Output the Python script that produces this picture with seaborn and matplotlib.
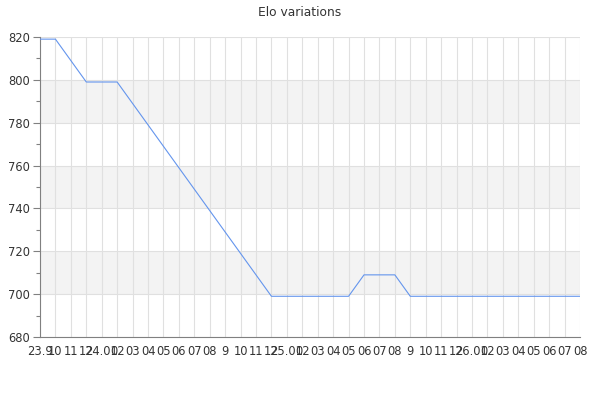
import matplotlib
matplotlib.use("Agg")
import matplotlib.pyplot as plt
import seaborn as sns
import pandas as pd
from matplotlib.ticker import MultipleLocator

tick_labels = ["23.9", "10", "11", "12",
               "24.01", "02", "03", "04", "05", "06", "07", "08", "9", "10", "11", "12",
               "25.01", "02", "03", "04", "05", "06", "07", "08", "9", "10", "11", "12",
               "26.01", "02", "03", "04", "05", "06", "07", "08"]
elo = [819, 819, 809, 799, 799, 799, 789, 779, 769, 759, 749, 739, 729, 719, 709, 699,
       699, 699, 699, 699, 699, 709, 709, 709, 699, 699, 699, 699, 699, 699, 699, 699,
       699, 699, 699, 699]
title = "Elo variations"

df = pd.DataFrame({"idx": list(range(len(elo))), "elo": elo})

sns.set_theme(style="white")
plt.rcParams['font.family'] = ['DejaVu Sans']

fig = plt.figure(figsize=(6, 4), dpi=100)
ax = fig.add_axes([40/600, 1-337/400, 540/600, 300/400])

# alternating bands
for lo in range(700, 820, 40):
    ax.axhspan(lo, lo + 20, color="#f3f3f3", zorder=0, lw=0)

sns.lineplot(data=df, x="idx", y="elo", ax=ax, color="#6495ED", linewidth=0.8, zorder=3)

ax.set_xlim(0, len(elo) - 1)
ax.set_ylim(680, 820)
ax.set_xticks(range(len(elo)))
ax.set_xticklabels(tick_labels, fontsize=8.3, color="#333333")
ax.yaxis.set_major_locator(MultipleLocator(20))
ax.yaxis.set_minor_locator(MultipleLocator(10))
ax.tick_params(axis="y", which="major", length=5, width=0.8, color="#808080",
               labelsize=8.3, labelcolor="#333333", pad=2, left=True)
ax.tick_params(axis="y", which="minor", length=3, width=0.8, color="#808080", left=True)
ax.tick_params(axis="x", length=0, pad=6)
ax.grid(True, which="major", color="#e0e0e0", linewidth=0.8, zorder=1)
ax.set_axisbelow(True)
ax.set_xlabel("")
ax.set_ylabel("")
for s in ["top", "right"]:
    ax.spines[s].set_visible(False)
for s in ["left", "bottom"]:
    ax.spines[s].set_color("#808080")
    ax.spines[s].set_linewidth(0.8)

fig.suptitle(title, fontsize=8.8, color="#333333", y=1-12/400, va="center")
fig.patch.set_facecolor("white")
fig.savefig("out.png", dpi=100)
